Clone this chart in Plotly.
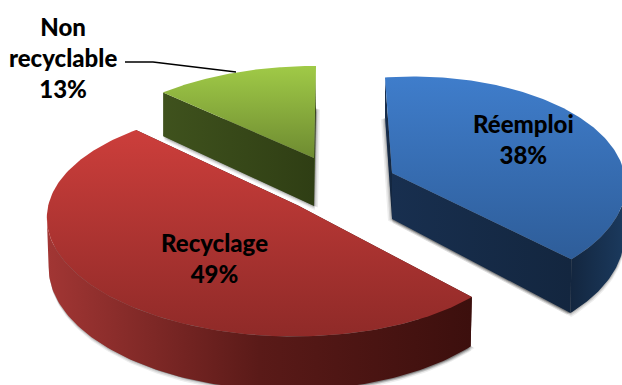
import numpy as np
import plotly.graph_objects as go

# Waste streams and their shares, in percent
categories = ["Réemploi", "Recyclage", "Non<br>recyclable"]
shares = [38, 49, 13]

# Exploded-slice perspective: apex, radii, foreshortening and shear of each slice
slice_views = [
    dict(x0=392, y0=173, B=216, A=109, c=-8, s=-8, k=0.14, j=-0.06, depth=46, taper=0.995),
    dict(x0=298, y0=205.6, B=236, A=112, c=0, s=4.8, k=0.144, j=0.05, depth=46, taper=0.993),
    dict(x0=314, y0=158, B=229, A=105, c=2.3, s=0, k=0.14, j=0.0, depth=48, taper=1.0),
]
top_colours = [("#3F7DCB", "#2E5D99"), ("#CC3E3B", "#8F2A28"), ("#A0CA47", "#6E8B31")]
face_colours = [("#182F4F", "#13263F"), ("#4A1412", "#3C0F0D"), ("#3F521D", "#2F3E14")]
rim_colours = [("#13263F", "#1B3A5E"), ("#A23634", "#5A1A18", "#3C0F0D"), ("#2F3E14", "#2F3E14")]
label_centres = [(523, 139), (214, 258), (63, 57)]
draw_order = [2, 0, 1]


def project(u, v, g):
    w = 1 + g["k"] * v + g["j"] * u
    x = g["x0"] + (g["B"] * u + g["c"] * v) / w
    y = g["y0"] + (-g["A"] * v + g["s"] * u) / w
    return x, y, w


def floor_of(x, y, w, g):
    return g["x0"] + (x - g["x0"]) * g["taper"], y + g["depth"] / w


def polygon(xs, ys, colours, direction, shade=None):
    lo, hi = (min(xs), max(xs)) if direction == "horizontal" else (min(ys), max(ys))
    trace = dict(x=list(xs), y=list(ys), mode="lines", fill="toself", line=dict(width=0),
                 hoverinfo="skip", showlegend=False)
    if shade:
        trace["fillcolor"] = shade
    else:
        stops = [[n / (len(colours) - 1), c] for n, c in enumerate(colours)]
        trace["fillgradient"] = dict(type=direction, start=lo, stop=hi, colorscale=stops)
    return go.Scatter(**trace)


fig = go.Figure()
edges = np.cumsum([0] + shares) / sum(shares) * 2 * np.pi

for i in draw_order:
    g = slice_views[i]
    theta = np.linspace(edges[i], edges[i + 1], 160)
    u, v = np.sin(theta), np.cos(theta)
    ax, ay, aw = project(u, v, g)
    fx, fy = floor_of(ax, ay, aw, g)
    cx, cy, cw = project(np.array([0.0]), np.array([0.0]), g)
    bx, by = floor_of(cx, cy, cw, g)

    # Soft drop shadow cast by the underside of the slice
    floor_x = np.r_[bx, fx, bx]
    floor_y = np.r_[by, fy, by]
    side = 1 if i == 0 else -1
    for offset, alpha in ((4, 0.07), (2.5, 0.10), (1.2, 0.14)):
        fig.add_trace(polygon(floor_x + offset * 0.2, floor_y + offset, None, "horizontal",
                              shade=f"rgba(0,0,0,{alpha})"))
        fig.add_trace(polygon(floor_x - offset * side, floor_y + offset * 0.4, None,
                              "horizontal", shade=f"rgba(0,0,0,{alpha})"))

    # Radial cut faces
    for end in (0, -1):
        fig.add_trace(polygon([cx[0], ax[end], fx[end], bx[0]], [cy[0], ay[end], fy[end], by[0]],
                              face_colours[i], "horizontal"))

    # Outer rim, only where it faces the viewer
    front = np.where(np.diff(ax) < 0)[0]
    if len(front):
        a, b = front[0], front[-1] + 2
        fig.add_trace(polygon(np.r_[ax[a:b], fx[a:b][::-1]], np.r_[ay[a:b], fy[a:b][::-1]],
                              rim_colours[i], "horizontal"))

    # Top surface
    fig.add_trace(polygon(np.r_[cx, ax, cx], np.r_[cy, ay, cy], top_colours[i], "vertical"))

# Leader from the outside label to its slice
fig.add_trace(go.Scatter(x=[125, 153, 236], y=[62, 62, 72], mode="lines",
                         line=dict(color="black", width=1.6), hoverinfo="skip", showlegend=False))

for name, share, (lx, ly) in zip(categories, shares, label_centres):
    fig.add_annotation(x=lx, y=ly, xref="x", yref="y", showarrow=False, align="center",
                       text=f"{name}<br>{share}%",
                       font=dict(family="Lato", size=24, color="black", weight=900))

fig.update_layout(
    width=622, height=385, margin=dict(l=0, r=0, t=0, b=0),
    paper_bgcolor="white", plot_bgcolor="white", showlegend=False,
    xaxis=dict(range=[0, 622], visible=False, fixedrange=True),
    yaxis=dict(range=[385, 0], visible=False, fixedrange=True),
)
fig.write_html("out.html", config={"displayModeBar": False})
